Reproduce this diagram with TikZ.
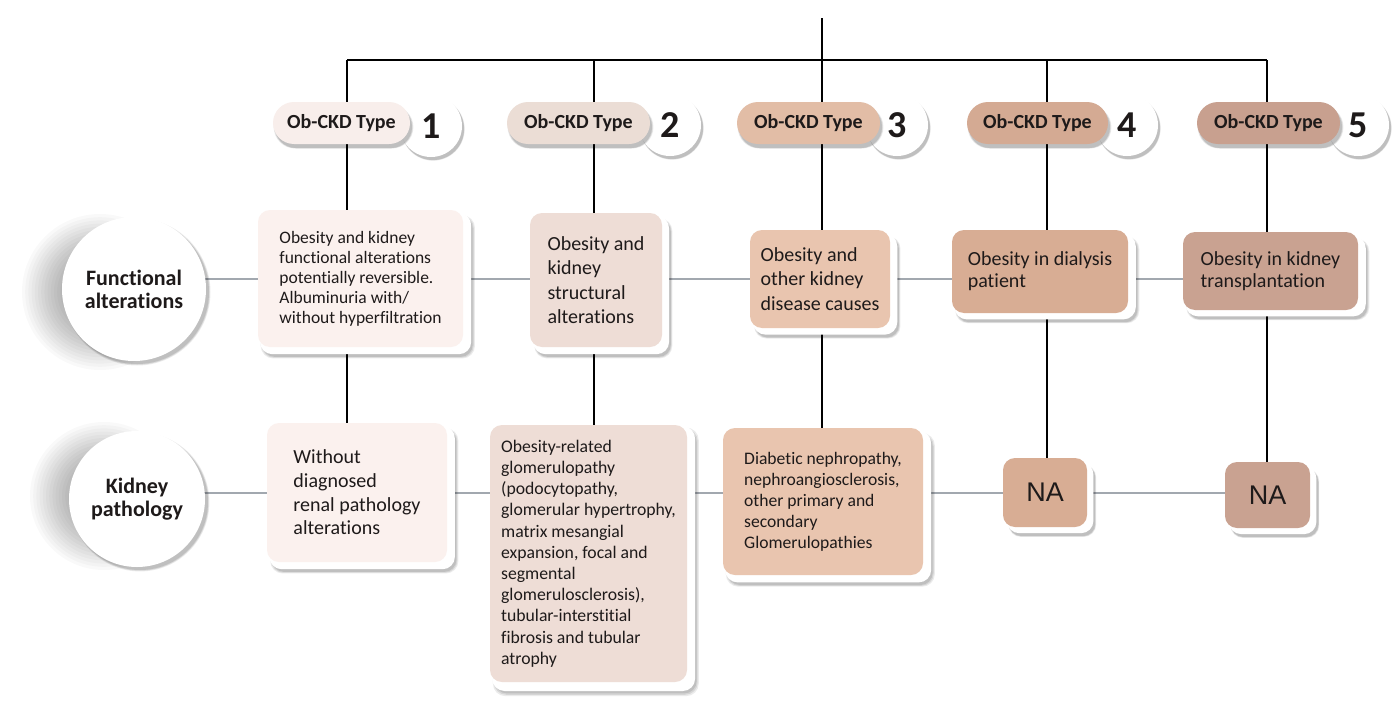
\documentclass[tikz,border=0pt]{standalone}
\usepackage{fontspec}
\setmainfont{Carlito}[Ligatures={CommonOff,ContextualOff}, Contextuals=AlternateOff]
\newfontfamily\nafont{Liberation Sans}
\usetikzlibrary{shadows,backgrounds}

\definecolor{ink}{HTML}{1E1A1A}
\definecolor{linegrey}{HTML}{A2A8AF}
\definecolor{boxA}{HTML}{FBF1EE}
\definecolor{boxB}{HTML}{EEDDD6}
\definecolor{boxC}{HTML}{E9C5AF}
\definecolor{boxD}{HTML}{D8AD94}
\definecolor{boxE}{HTML}{C9A291}
\definecolor{pillA}{HTML}{F8EEEB}
\definecolor{pillB}{HTML}{EBDDD5}
\definecolor{pillC}{HTML}{E2BDA6}
\definecolor{pillD}{HTML}{D4AA93}
\definecolor{pillE}{HTML}{C8A08F}

\tikzset{
  % a soft shadow built from three faint, slightly growing copies
  softshade/.style n args={3}{
    general shadow={fill=black, opacity=0.08, shadow xshift=#1, shadow yshift=#2,
      shadow scale=#3+0.02},
    general shadow={fill=black, opacity=0.09, shadow xshift=#1, shadow yshift=#2,
      shadow scale=#3+0.01},
    general shadow={fill=black, opacity=0.10, shadow xshift=#1, shadow yshift=#2,
      shadow scale=#3}},
  hline/.style={draw=linegrey, line width=2pt},
  vline/.style={draw=black, line width=2pt},
  cellbox/.style={rectangle, rounded corners=12pt, inner sep=0pt, align=left,
    text=ink,
    softshade={7pt}{-8pt}{1.025},
    general shadow={fill=white, shadow xshift=5pt, shadow yshift=-5pt,
      shadow scale=1.03}},
  smalltxt/.style={font=\fontsize{17.5}{20}\selectfont},
  midtxt/.style={font=\fontsize{20}{24.5}\selectfont},
  natxt/.style={font=\nafont\fontsize{27}{27}\selectfont},
  pill/.style={rectangle, rounded corners=21pt, minimum height=42pt,
    inner sep=0pt, text=ink, font=\bfseries\fontsize{20}{20}\selectfont,
    softshade={2pt}{-4pt}{1.0}},
  numdisc/.style={circle, fill=white, minimum size=62pt, inner sep=0pt,
    text=ink, font=\bfseries\fontsize{38}{38}\selectfont,
    softshade={2pt}{-3pt}{1.0}},
  rowdisc/.style={circle, fill=white, inner sep=0pt, align=center,
    text=ink, font=\bfseries\fontsize{22}{23}\selectfont,
    softshade={3pt}{-3pt}{1.0}}
}

% soft grey halo behind a row header disc: stacked faint discs
\newcommand{\softhalo}[3]{%
  \foreach \k in {0,...,13}{%
    \fill[black, opacity=0.022] (#1,#2) circle ({#3-3.2*\k});
  }%
}

\begin{document}
\begin{tikzpicture}[x=1pt, y=-1pt]
\useasboundingbox (0,0) rectangle (1400,704);
\begin{pgfonlayer}{background}
  \fill[white] (0,0) rectangle (1400,704);
  \softhalo{100}{292}{78}
  \softhalo{104}{496}{74}
\end{pgfonlayer}

% junction points of the top bus
\coordinate (top) at (822,18);
\coordinate (b1) at (347,60);
\coordinate (b2) at (594,60);
\coordinate (b3) at (822,60);
\coordinate (b4) at (1047,60);
\coordinate (b5) at (1267,60);
\coordinate (r1) at (0,279);
\coordinate (r2) at (0,493);

% row headers
\node[rowdisc, minimum size=144pt] (la) at (134,289) {Functional\\alterations};
\node[rowdisc, minimum size=136pt] (lk) at (137,499) {Kidney\\pathology};

% type markers: number discs under the pills
\node[numdisc] (d1) at (431,126) {1};
\node[numdisc] (d2) at (670,125) {2};
\node[numdisc] (d3) at (897,125) {3};
\node[numdisc] (d4) at (1127,125) {4};
\node[numdisc] (d5) at (1358,125) {5};

\node[pill, fill=pillA, minimum width=137pt] (t1) at (341.5,123) {Ob-CKD Type};
\node[pill, fill=pillB, minimum width=143pt] (t2) at (578.5,123) {Ob-CKD Type};
\node[pill, fill=pillC, minimum width=143pt] (t3) at (808.5,123) {Ob-CKD Type};
\node[pill, fill=pillD, minimum width=141pt] (t4) at (1037.5,123) {Ob-CKD Type};
\node[pill, fill=pillE, minimum width=143pt] (t5) at (1268.5,123) {Ob-CKD Type};

% functional alterations row
\node[cellbox, smalltxt, fill=boxA, minimum width=205pt, minimum height=137pt]
  (f1) at (360.5,278.5)
  {Obesity and kidney\\functional alterations\\potentially reversible.\\Albuminuria with/\\without hyperfiltration};
\node[cellbox, midtxt, fill=boxB, minimum width=132pt, minimum height=134pt]
  (f2) at (596,280) {Obesity and\\kidney\\structural\\alterations};
\node[cellbox, midtxt, fill=boxC, minimum width=140pt, minimum height=98pt]
  (f3) at (820,279) {Obesity and\\other kidney\\disease causes};
\node[cellbox, font=\fontsize{20}{22}\selectfont, fill=boxD, minimum width=176pt, minimum height=83pt]
  (f4) at (1040,271.5) {Obesity in dialysis\\patient};
\node[cellbox, font=\fontsize{20}{22}\selectfont, fill=boxE, minimum width=175pt, minimum height=78pt]
  (f5) at (1270.5,271) {Obesity in kidney\\transplantation};

% kidney pathology row
\node[cellbox, font=\fontsize{20}{23.7}\selectfont, fill=boxA, minimum width=180pt, minimum height=139pt]
  (k1) at (357,492.5) {Without\\diagnosed\\renal pathology\\alterations};
\node[cellbox, font=\fontsize{17.7}{21.2}\selectfont, fill=boxB, minimum width=197pt, minimum height=257pt]
  (k2) at (588.5,553.5)
  {Obesity-related\\glomerulopathy\\(podocytopathy,\\glomerular hypertrophy,\\matrix mesangial\\expansion, focal and\\segmental\\glomerulosclerosis),\\tubular-interstitial\\fibrosis and tubular\\atrophy};
\node[cellbox, font=\fontsize{17.6}{21}\selectfont, fill=boxC, minimum width=200pt, minimum height=147pt]
  (k3) at (823,501.5)
  {Diabetic nephropathy,\\nephroangiosclerosis,\\other primary and\\secondary\\Glomerulopathies};
\node[cellbox, natxt, fill=boxD, minimum width=84pt, minimum height=69pt]
  (n4) at (1045,492.5) {NA};
\node[cellbox, natxt, fill=boxE, minimum width=85pt, minimum height=66pt]
  (n5) at (1267.5,495) {NA};

% connectors, drawn beneath the boxes
\begin{pgfonlayer}{background}
  \draw[hline] (la |- r1) -- (f1 |- r1) -- (f2 |- r1) -- (f3 |- r1)
               -- (f4 |- r1) -- (f5 |- r1);
  \draw[hline] (lk |- r2) -- (k1 |- r2) -- (k2 |- r2) -- (k3 |- r2)
               -- (n4 |- r2) -- (n5 |- r2);
  \draw[vline] (top) -- (b3);
  \draw[vline] (b1) -- (b5);
  \draw[vline] (b1) -- (b1 |- k1.center);
  \draw[vline] (b2) -- (b2 |- k2.center);
  \draw[vline] (b3) -- (b3 |- k3.center);
  \draw[vline] (b4) -- (b4 |- n4.center);
  \draw[vline] (b5) -- (b5 |- n5.center);
\end{pgfonlayer}
\end{tikzpicture}
\end{document}
